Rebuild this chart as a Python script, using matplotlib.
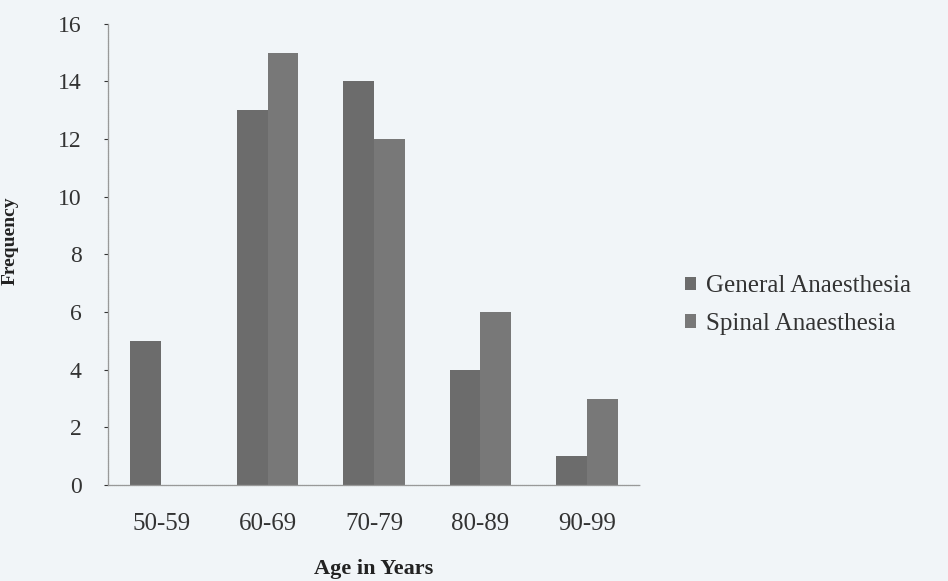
import numpy as np
import matplotlib
matplotlib.use('Agg')
import matplotlib.pyplot as plt

# ========================
# Data
# ========================
ageGroups = ['50-59', '60-69', '70-79', '80-89', '90-99']
generalAnaesthesia = [5, 13, 14, 4, 1]
spinalAnaesthesia = [0, 15, 12, 6, 3]
yTicks = [0, 2, 4, 6, 8, 10, 12, 14, 16]

plt.rcParams['font.family'] = ['Liberation Serif', 'DejaVu Serif']
bg = '#f1f5f8'

fig = plt.figure(figsize=(9.48, 5.81), dpi=100, facecolor=bg)
ax = fig.add_axes([0.114, 0.165, 0.561, 0.794], facecolor=bg)

x = np.arange(len(ageGroups))
w = 0.29
ax.bar(x - w/2, generalAnaesthesia, w, color='#6c6c6c', label='General Anaesthesia')
ax.bar(x + w/2, spinalAnaesthesia, w, color='#787878', label='Spinal Anaesthesia')

ax.set_xlim(-0.5, len(ageGroups) - 0.5)
ax.set_ylim(0, 16)
ax.set_yticks(yTicks)
ax.set_xticks(x)
ax.set_xticklabels(ageGroups)
ax.tick_params(axis='x', length=0, pad=20, labelsize=18, colors='#333333')
ax.tick_params(axis='y', length=3, width=0.8, pad=16, labelsize=17, colors='#333333')

for s in ['top', 'right']:
    ax.spines[s].set_visible(False)
for s in ['left', 'bottom']:
    ax.spines[s].set_color('#999999')
    ax.spines[s].set_linewidth(0.9)
    ax.spines[s].set_linestyle((0, (1, 0.6)))

ax.set_xlabel('Age in Years', fontsize=16, fontweight='bold', color='#222222', labelpad=17)
ax.set_ylabel('Frequency', fontsize=14, fontweight='bold', color='#222222')
ax.yaxis.set_label_coords(-0.168, 0.53)

ax.legend(loc='center left', bbox_to_anchor=(1.066, 0.39), borderaxespad=0, frameon=False,
          fontsize=18, handlelength=0.45, handleheight=0.45, handletextpad=0.4,
          labelspacing=0.62, labelcolor='#333333')

fig.savefig('out.png', dpi=100, facecolor=bg)
